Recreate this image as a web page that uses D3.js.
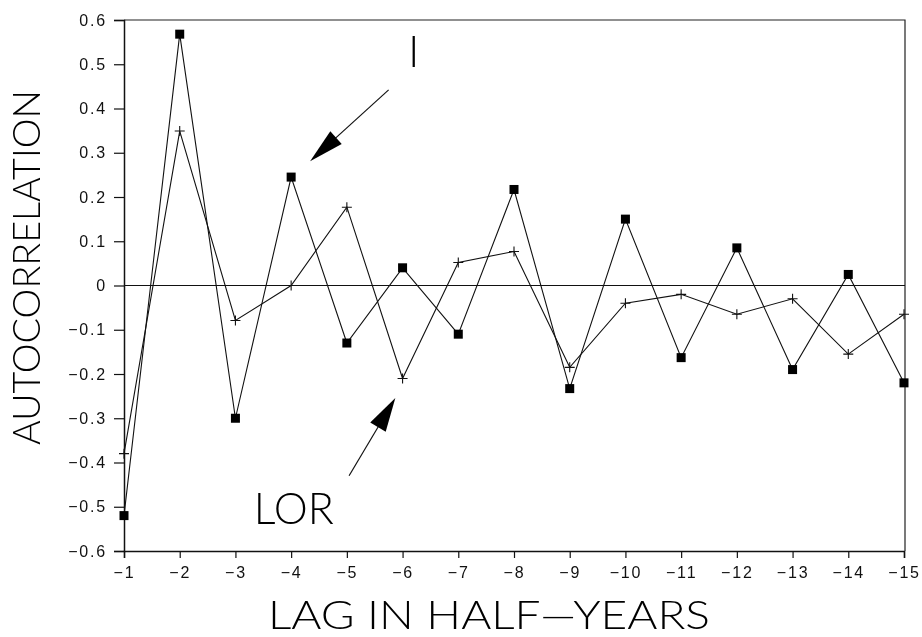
<!DOCTYPE html>
<html>
<head>
<meta charset="utf-8">
<script src="https://cdn.jsdelivr.net/npm/d3@7.9.0/dist/d3.min.js"></script>
<style>
  body { margin: 0; background: #fff; }
  svg { display: block; will-change: transform; }
  .tick text { font-family: "Liberation Sans", Arial, sans-serif; font-size: 16px; letter-spacing: 1.8px; fill: #111; }
  .big { font-family: Lato, "DejaVu Sans", sans-serif; font-weight: 300; fill: #000; }
</style>
</head>
<body>
<svg width="922" height="637"></svg>
<script>
// lags (half-years) and autocorrelations
const lags = [-1, -2, -3, -4, -5, -6, -7, -8, -9, -10, -11, -12, -13, -14, -15];
const seriesI = [-0.52, 0.568, -0.30, 0.245, -0.13, 0.04, -0.11, 0.217, -0.233, 0.15, -0.163, 0.085, -0.19, 0.025, -0.22];
const seriesLOR = [-0.38, 0.349, -0.079, 0.0, 0.177, -0.21, 0.052, 0.077, -0.185, -0.04, -0.02, -0.065, -0.03, -0.155, -0.065];
const yTicks = [-0.6, -0.5, -0.4, -0.3, -0.2, -0.1, 0, 0.1, 0.2, 0.3, 0.4, 0.5, 0.6];

const svg = d3.select('svg');
const mLeft = 124, mRight = 905, mTop = 20, mBottom = 551;

let x = d3.scaleLinear().domain([-1, -15]).range([mLeft, 904]);
let y = d3.scaleLinear().domain([-0.6, 0.6]).range([mBottom, mTop]);

const fmtY = (d) => d === 0 ? '0' : d3.format('.1f')(d).replace('-', '\u2212');
const fmtX = (d) => '\u2212' + Math.abs(d);

// frame (top and right)
svg.append('path')
  .attr('d', `M${mLeft},${mTop}H${mRight}V${mBottom}`)
  .attr('fill', 'none')
  .attr('stroke', '#222')
  .attr('stroke-width', 1.2);

// axes
svg.append('g')
  .attr('transform', `translate(${mLeft},0)`)
  .call(d3.axisLeft(y).tickValues(yTicks).tickFormat(fmtY).tickSize(10).tickPadding(7));
svg.append('g')
  .attr('transform', `translate(0,${mBottom})`)
  .call(d3.axisBottom(x).tickValues(lags).tickFormat(fmtX).tickSize(7).tickPadding(9));
svg.selectAll('.domain').attr('stroke', '#111').attr('stroke-width', 1.5);
svg.selectAll('.tick line').attr('stroke', '#111').attr('stroke-width', 1.2);
svg.selectAll('g').attr('font-family', null).attr('font-size', null);

// zero line
svg.append('line')
  .attr('x1', mLeft).attr('x2', mRight)
  .attr('y1', y(0)).attr('y2', y(0))
  .attr('stroke', '#111').attr('stroke-width', 1.1);

let line = d3.line().x((d) => x(d[0])).y((d) => y(d[1]));

const dataI = lags.map((l, i) => [l, seriesI[i]]);
const dataLOR = lags.map((l, i) => [l, seriesLOR[i]]);

[dataI, dataLOR].forEach((data) => {
  svg.append('path')
    .attr('d', line(data))
    .attr('fill', 'none')
    .attr('stroke', '#111')
    .attr('stroke-width', 1.1);
});

// square markers for I
svg.selectAll('rect.sq')
  .data(dataI)
  .join('rect')
  .attr('class', 'sq')
  .attr('x', (d) => x(d[0]) - 4.5)
  .attr('y', (d) => y(d[1]) - 4.5)
  .attr('width', 9)
  .attr('height', 9)
  .attr('fill', '#000');

// plus markers for LOR
svg.selectAll('path.plus')
  .data(dataLOR)
  .join('path')
  .attr('class', 'plus')
  .attr('d', (d) => {
    let cx = x(d[0]), cy = y(d[1]);
    return `M${cx - 5},${cy}H${cx + 5}M${cx},${cy - 5}V${cy + 5}`;
  })
  .attr('stroke', '#111')
  .attr('stroke-width', 1.1);

// annotations: arrow from [x0,y0] to tip [x1,y1], in data units
function arrow(from, to, headLen, headW) {
  let x0 = x(from[0]), y0 = y(from[1]), x1 = x(to[0]), y1 = y(to[1]);
  let dx = x1 - x0, dy = y1 - y0, len = Math.hypot(dx, dy);
  let ux = dx / len, uy = dy / len;
  let bx = x1 - ux * headLen, by = y1 - uy * headLen;
  svg.append('line')
    .attr('x1', x0).attr('y1', y0).attr('x2', bx + ux * 4).attr('y2', by + uy * 4)
    .attr('stroke', '#111').attr('stroke-width', 1.2);
  svg.append('path')
    .attr('d', `M${x1},${y1}L${bx - uy * headW / 2},${by + ux * headW / 2}L${bx + uy * headW / 2},${by - ux * headW / 2}Z`)
    .attr('fill', '#000');
}
arrow([-5.75, 0.442], [-4.34, 0.281], 35, 17);
arrow([-5.04, -0.43], [-5.87, -0.254], 34, 18);

svg.append('text').attr('class', 'big')
  .attr('x', x(-6.2)).attr('y', y(0.494))
  .attr('text-anchor', 'middle')
  .attr('font-size', 44)
  .text('I');

svg.append('text').attr('class', 'big')
  .attr('x', x(-3.33)).attr('y', y(-0.54))
  .attr('font-size', 44)
  .attr('textLength', 80).attr('lengthAdjust', 'spacingAndGlyphs')
  .text('LOR');

// axis titles
svg.append('text').attr('class', 'big')
  .attr('x', 268).attr('y', 629)
  .attr('font-size', 40)
  .attr('textLength', 442).attr('lengthAdjust', 'spacingAndGlyphs')
  .text('LAG IN HALF\u2014YEARS');

svg.append('text').attr('class', 'big')
  .attr('transform', 'translate(40,445) rotate(-90)')
  .attr('font-size', 38)
  .attr('textLength', 355).attr('lengthAdjust', 'spacingAndGlyphs')
  .text('AUTOCORRELATION');
</script>
</body>
</html>
